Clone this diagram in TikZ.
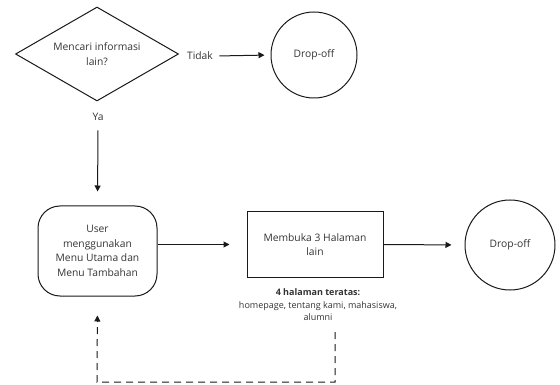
\documentclass[tikz,border=0pt]{standalone}
\usepackage{fontspec}
\setmainfont{Open Sans}
\usetikzlibrary{shapes.geometric,arrows.meta}
\begin{document}
\begin{tikzpicture}[x=1pt,y=-1pt,
  every node/.style={font=\fontsize{10.3}{14.5}\selectfont, text=black!80},
  shapeline/.style={draw=black!90, line width=1pt},
  decision/.style={shapeline, diamond, aspect=1.73, minimum width=163pt, minimum height=94pt, inner sep=0pt, align=center},
  endcircle/.style={shapeline, circle, inner sep=0pt},
  process/.style={shapeline, rectangle, minimum width=136pt, minimum height=65pt, align=center},
  userbox/.style={shapeline, rectangle, rounded corners=22pt, minimum width=119pt, minimum height=90pt, align=center, inner sep=2pt},
  conn/.style={line width=1pt, draw=black!90, -{Triangle[length=6pt,width=6pt]}},
  dashconn/.style={conn, dash pattern=on 7pt off 5pt}
]
\useasboundingbox (0,0) rectangle (560,385);
\node[decision] (dec) at (97,54) {Mencari informasi\\lain?};
\node (tidak) at (200,56) {Tidak};
\node[endcircle, minimum size=86pt] (drop1) at (314,55) {Drop-off};
\node (ya) at (98,117) {Ya};
\node[userbox] (user) at (97.5,251) {User\\menggunakan\\Menu Utama dan\\Menu Tambahan};
\node[process] (buka) at (315,244.5) {Membuka 3 Halaman\\lain};
\node[endcircle, minimum size=90pt] (drop2) at (510,245) {Drop-off};
\node[align=center, font=\fontsize{9}{12.5}\selectfont] (lab) at (318,305) {\textbf{4 halaman teratas:}\\homepage, tentang kami, mahasiswa,\\alumni};
\coordinate (d1) at (335,332);
\coordinate (d2) at (335,382);
\coordinate (d3) at (97,382);

\draw[conn, shorten <=3pt, shorten >=6pt] (tidak.east) -- (drop1.west);
\draw[conn, shorten <=6pt, shorten >=14pt] (ya.south) -- (user.north);
\draw[conn, shorten >=17pt] (user.east |- buka.west) -- (buka.west);
\draw[conn, shorten >=13pt] (buka.east) -- (drop2.west);
\draw[dashconn, shorten >=19pt] (d1) -- (d2) -- (d3) -- (user.south);
\end{tikzpicture}
\end{document}
